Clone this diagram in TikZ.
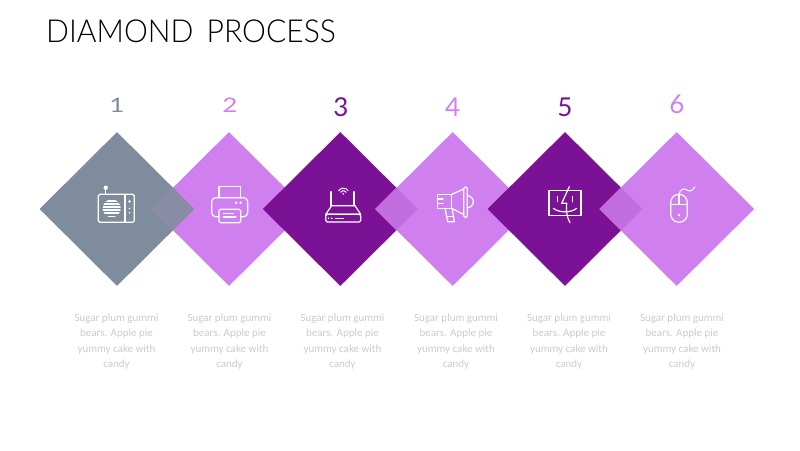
\documentclass[tikz,border=0pt]{standalone}
\usepackage{fontspec}
\usepackage{xcolor}
\usetikzlibrary{shapes.geometric}
\setmainfont{Lato}
\newfontfamily\lightfont{Lato Light}[FakeStretch=0.95,WordSpace=1.6]
\newfontfamily\widefont{Lato}[FakeStretch=1.3]
\newfontfamily\captionfont{Carlito}
\definecolor{dpslate}{HTML}{7F8C9D}
\definecolor{dplight}{HTML}{CF80EE}
\definecolor{dpdark}{HTML}{7B1296}
\definecolor{dpcaption}{HTML}{CBCBCB}
\newcommand{\sugartext}{Sugar plum gummi\\bears. Apple pie\\yummy cake with\\candy}
\tikzset{
  every picture/.append style={line cap=round,line join=round},
  dp diamond/.style={diamond,aspect=1,inner sep=0pt,minimum width=155pt,minimum height=154pt},
  dp overlap/.style={diamond,aspect=1,inner sep=0pt,minimum width=42.8pt,minimum height=42.8pt},
  dp number/.style={font=\fontsize{26}{26}\selectfont,inner sep=0pt},
  dp small number/.style={font=\widefont\fontsize{20}{20}\selectfont,inner sep=0pt},
  dp caption/.style={font=\captionfont\fontsize{11}{15.3}\selectfont,text=dpcaption,align=center,inner sep=0pt},
  dp icon/.style={white,line width=1.2pt},
  dp dot/.style={fill=white}
}
\begin{document}
\begin{tikzpicture}[x=1pt,y=-1pt]
\useasboundingbox (0,0) rectangle (800,450);
\node[font=\lightfont\fontsize{31.7}{31.7}\selectfont,anchor=west,inner sep=0pt] (title) at (46,31.5) {DIAMOND PROCESS};
\node[dp diamond,fill=dpslate] (d1) at (117,209) {};
\node[dp diamond,fill=dplight] (d2) at (229,209) {};
\node[dp diamond,fill=dpdark] (d3) at (340.3,209) {};
\node[dp diamond,fill=dplight] (d4) at (452.7,209) {};
\node[dp diamond,fill=dpdark] (d5) at (565,209) {};
\node[dp diamond,fill=dplight] (d6) at (676.7,209) {};
\node[dp overlap,fill=dpslate!88!dplight] (o12) at (173,209) {};
\node[dp overlap,fill=dplight!84!dpdark] (o34) at (396.5,209) {};
\node[dp overlap,fill=dplight!84!dpdark] (o56) at (621,209) {};
\node[dp small number,text=dpslate] (n1) at (117,105) {1};
\node[dp small number,text=dplight] (n2) at (230,105) {2};
\node[dp number,text=dpdark] (n3) at (341,107.5) {3};
\node[dp number,text=dplight] (n4) at (452.7,107.5) {4};
\node[dp number,text=dpdark] (n5) at (565,107) {5};
\node[dp number,text=dplight] (n6) at (677,104) {6};
\node[dp caption] (c1) at (116.5,341.5) {\sugartext};
\node[dp caption] (c2) at (229.5,341.5) {\sugartext};
\node[dp caption] (c3) at (342.5,341.5) {\sugartext};
\node[dp caption] (c4) at (456,341.5) {\sugartext};
\node[dp caption] (c5) at (569,341.5) {\sugartext};
\node[dp caption] (c6) at (682,341.5) {\sugartext};
\draw[dp icon,rounded corners=1.5pt] (98.3,194.3) rectangle (134.3,222.3);
\draw[dp icon] (125,194.3) -- (125,222.3);
\draw[dp icon] (105.7,189.5) -- (105.7,194.3);
\fill[white] (105.7,187.7) circle (2.2);
\begin{scope}
\clip (111.7,208.3) circle (9);
\draw[white,line width=1.5pt] (100,200.8) -- (124,200.8);
\draw[white,line width=1.5pt] (100,203.9) -- (124,203.9);
\draw[white,line width=1.5pt] (100,207) -- (124,207);
\draw[white,line width=1.5pt] (100,210.1) -- (124,210.1);
\draw[white,line width=1.5pt] (100,213.2) -- (124,213.2);
\draw[white,line width=1.5pt] (100,216.3) -- (124,216.3);
\end{scope}
\fill[dp dot] (129.5,201.5) circle (1.3);
\fill[dp dot] (129.5,208.5) circle (0.8);
\fill[dp dot] (129.5,212.7) circle (0.8);
\draw[dp icon] (219,197.7) -- (219,186.7) -- (240.7,186.7) -- (240.7,197.7);
\draw[dp icon,rounded corners=4pt] (219,216.7) -- (211.7,216.7) -- (211.7,197.7) -- (247.7,197.7) -- (247.7,216.7) -- (240.7,216.7);
\draw[dp icon,rounded corners=1.5pt] (219,209.3) rectangle (240.7,222.7);
\draw[dp icon] (223.3,213.3) -- (233.3,213.3);
\draw[dp icon] (223.3,216.9) -- (236,216.9);
\fill[dp dot] (236,202.7) circle (1.3);
\fill[dp dot] (240.7,202.7) circle (1.3);
\draw[dp icon] (331.7,205.7) -- (355,205.7) -- (360.7,214.3) -- (325.7,214.3) -- cycle;
\draw[dp icon,rounded corners=1.5pt] (325.7,214.3) rectangle (360.7,222);
\draw[dp icon] (331,191.7) -- (331,205.7);
\draw[dp icon] (354,191.7) -- (354,205.7);
\draw[dp icon,line width=1pt] (338.6,190.7) arc (-150:-30:5.4);
\draw[dp icon,line width=1pt] (340.7,192.2) arc (-150:-30:3);
\fill[dp dot] (343.3,193.8) circle (0.9);
\fill[dp dot] (328.5,218.3) circle (0.9);
\fill[dp dot] (331.8,218.3) circle (0.9);
\draw[dp icon] (335.5,218.3) -- (343.3,218.3);
\draw[dp icon] (451.7,194.3) -- (464,189) (451.7,208.3) -- (464,214.7);
\draw[dp icon] (451.7,194.3) -- (437.7,194.3) -- (437.7,208.3) -- (451.7,208.3) -- cycle;
\draw[dp icon] (437.7,199) -- (443,199) (437.7,203.5) -- (443,203.5);
\draw[dp icon,rounded corners=1.8pt] (463.7,186.7) rectangle (467.3,217.7);
\draw[dp icon] (467.3,195.7) arc (-90:90:6);
\draw[dp icon] (445,208.3) -- (447.7,221.7) -- (454.3,221.7) -- (452.3,209);
\draw[dp icon] (447,216.7) -- (453.5,216.7);
\draw[dp icon] (549,190.7) rectangle (581,215.7);
\draw[dp icon] (569.3,186.7) -- (561.7,203.3) -- (566.7,203.3) .. controls (566,211) and (566.5,216) .. (570,222.7);
\draw[dp icon] (557.3,196.7) -- (557.3,201.7);
\draw[dp icon] (572.7,196.7) -- (572.7,201.7);
\draw[dp icon] (553.3,208.3) .. controls (559,213) and (571,213) .. (576.7,208.3);
\draw[dp icon,rounded corners=8.2pt] (670.7,194.3) rectangle (687.3,222.3);
\draw[dp icon] (670.7,204.3) -- (687.3,204.3);
\draw[dp icon] (679,194.3) -- (679,204.3);
\fill[dp dot] (679,215) circle (1.4);
\draw[dp icon,line width=1pt] (679,194.3) .. controls (680,188) and (685,188) .. (688,190.5) .. controls (690,192) and (693,190) .. (695,186.7);
\end{tikzpicture}
\end{document}
